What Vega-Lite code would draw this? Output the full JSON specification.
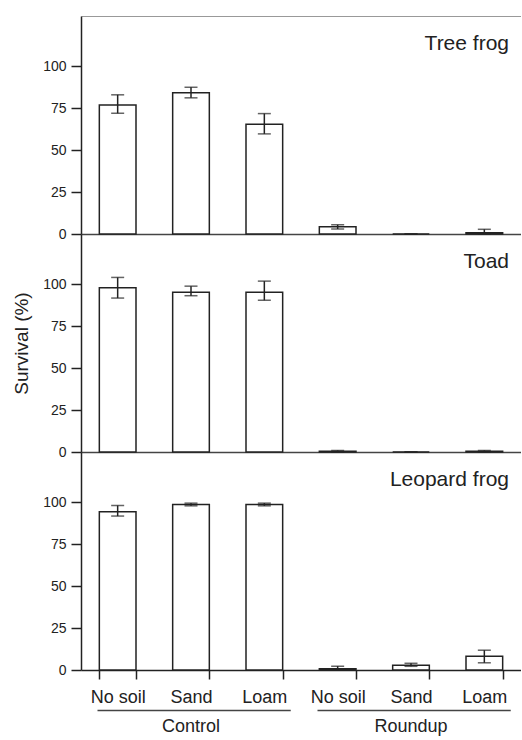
{
  "$schema": "https://vega.github.io/schema/vega-lite/v6.json",
  "padding": {"left": 12, "top": 16, "right": 0, "bottom": 0},
  "background": "white",
  "config": {
    "font": "Liberation Sans",
    "view": {"stroke": null},
    "axis": {
      "grid": false,
      "labelColor": "#222",
      "titleColor": "#222",
      "domainColor": "#222",
      "tickColor": "#222",
      "labelFont": "Liberation Sans",
      "titleFont": "Liberation Sans"
    }
  },
  "datasets": {
    "surv": [
      {"species": "Tree frog", "cat": "Control|No soil", "mean": 77, "lo": 72, "hi": 83},
      {"species": "Tree frog", "cat": "Control|Sand", "mean": 84.3, "lo": 81.2, "hi": 87.5},
      {"species": "Tree frog", "cat": "Control|Loam", "mean": 65.5, "lo": 59.7, "hi": 71.8},
      {"species": "Tree frog", "cat": "Roundup|No soil", "mean": 4.3, "lo": 3, "hi": 5.5},
      {"species": "Tree frog", "cat": "Roundup|Sand", "mean": 0, "lo": 0, "hi": 0},
      {"species": "Tree frog", "cat": "Roundup|Loam", "mean": 0.7, "lo": 0, "hi": 2.8},
      {"species": "Toad", "cat": "Control|No soil", "mean": 97.9, "lo": 91.8, "hi": 104.1},
      {"species": "Toad", "cat": "Control|Sand", "mean": 95.3, "lo": 93.2, "hi": 98.9},
      {"species": "Toad", "cat": "Control|Loam", "mean": 95.3, "lo": 90.5, "hi": 101.9},
      {"species": "Toad", "cat": "Roundup|No soil", "mean": 0.4, "lo": 0, "hi": 0.9},
      {"species": "Toad", "cat": "Roundup|Sand", "mean": 0, "lo": 0, "hi": 0},
      {"species": "Toad", "cat": "Roundup|Loam", "mean": 0.4, "lo": 0, "hi": 0.9},
      {"species": "Leopard frog", "cat": "Control|No soil", "mean": 94.4, "lo": 91.8, "hi": 98.1},
      {"species": "Leopard frog", "cat": "Control|Sand", "mean": 98.7, "lo": 97.9, "hi": 99.5},
      {"species": "Leopard frog", "cat": "Control|Loam", "mean": 98.7, "lo": 97.9, "hi": 99.5},
      {"species": "Leopard frog", "cat": "Roundup|No soil", "mean": 0.8, "lo": 0, "hi": 2.3},
      {"species": "Leopard frog", "cat": "Roundup|Sand", "mean": 2.9, "lo": 2.2, "hi": 4},
      {"species": "Leopard frog", "cat": "Roundup|Loam", "mean": 8.2, "lo": 4.3, "hi": 11.8}
    ],
    "groups": [
      {"treatment": "Control", "first": "Control|No soil", "mid": "Control|Sand", "last": "Control|Loam"},
      {"treatment": "Roundup", "first": "Roundup|No soil", "mid": "Roundup|Sand", "last": "Roundup|Loam"}
    ]
  },
  "spacing": 0,
  "bounds": "flush",
  "vconcat": [
    {
      "width": 440,
      "height": 218,
      "title": {"text": "Tree frog", "anchor": "end", "frame": "group", "orient": "top", "offset": -55, "dx": -12, "fontSize": 21, "fontWeight": "normal", "baseline": "alphabetic", "color": "#222", "font": "Liberation Sans"},
      "data": {"name": "surv"},
      "transform": [{"filter": "datum.species === 'Tree frog'"}],
      "resolve": {"axis": {"x": "independent"}},
      "layer": [
        {
          "mark": {"type": "bar", "fill": "white", "stroke": "#222", "strokeWidth": 1.5},
          "encoding": {
            "x": {"field": "cat", "type": "nominal", "sort": null,
              "scale": {"domain": ["Control|No soil", "Control|Sand", "Control|Loam", "Roundup|No soil", "Roundup|Sand", "Roundup|Loam"], "paddingInner": 0.5, "paddingOuter": 0.25},
              "axis": {"orient": "bottom", "title": null, "labels": false, "ticks": false, "domainColor": "#444", "domainWidth": 1.5}},
            "y": {"field": "mean", "type": "quantitative", "title": null,
              "scale": {"domain": [0, 124]},
              "axis": {"values": [0, 25, 50, 75, 100], "tickSize": 10, "tickWidth": 1.5, "domainWidth": 1.5, "labelPadding": 5, "labelFontSize": 14}}
          }
        },
        {
          "mark": {"type": "errorbar", "ticks": {"size": 13, "thickness": 1.5, "color": "#222"}, "rule": {"strokeWidth": 1.5, "color": "#222"}},
          "encoding": {
            "x": {"field": "cat", "type": "nominal", "axis": null},
            "y": {"field": "lo", "type": "quantitative", "title": null},
            "y2": {"field": "hi"}
          }
        },
        {
          "mark": {"type": "rule", "opacity": 0},
          "encoding": {
            "x": {"field": "cat", "type": "nominal", "axis": {"orient": "top", "title": null, "labels": false, "ticks": false, "domainColor": "#999", "domainWidth": 1}}
          }
        }
      ]
    },
    {
      "width": 440,
      "height": 218,
      "title": {"text": "Toad", "anchor": "end", "frame": "group", "orient": "top", "offset": -55, "dx": -12, "fontSize": 21, "fontWeight": "normal", "baseline": "alphabetic", "color": "#222", "font": "Liberation Sans"},
      "data": {"name": "surv"},
      "transform": [{"filter": "datum.species === 'Toad'"}],
      "layer": [
        {
          "mark": {"type": "bar", "fill": "white", "stroke": "#222", "strokeWidth": 1.5},
          "encoding": {
            "x": {"field": "cat", "type": "nominal", "sort": null,
              "scale": {"domain": ["Control|No soil", "Control|Sand", "Control|Loam", "Roundup|No soil", "Roundup|Sand", "Roundup|Loam"], "paddingInner": 0.5, "paddingOuter": 0.25},
              "axis": {"orient": "bottom", "title": null, "labels": false, "ticks": false, "domainColor": "#444", "domainWidth": 1.5}},
            "y": {"field": "mean", "type": "quantitative", "title": "Survival (%)",
              "scale": {"domain": [0, 124]},
              "axis": {"values": [0, 25, 50, 75, 100], "tickSize": 10, "tickWidth": 1.5, "domainWidth": 1.5, "labelPadding": 5, "labelFontSize": 14, "titleFontSize": 19, "titleFontWeight": "normal", "titlePadding": 11}}
          }
        },
        {
          "mark": {"type": "errorbar", "ticks": {"size": 13, "thickness": 1.5, "color": "#222"}, "rule": {"strokeWidth": 1.5, "color": "#222"}},
          "encoding": {
            "x": {"field": "cat", "type": "nominal"},
            "y": {"field": "lo", "type": "quantitative", "title": "Survival (%)"},
            "y2": {"field": "hi"}
          }
        }
      ]
    },
    {
      "width": 440,
      "height": 218,
      "title": {"text": "Leopard frog", "anchor": "end", "frame": "group", "orient": "top", "offset": -55, "dx": -12, "fontSize": 21, "fontWeight": "normal", "baseline": "alphabetic", "color": "#222", "font": "Liberation Sans"},
      "layer": [
        {
          "data": {"name": "surv"},
          "transform": [{"filter": "datum.species === 'Leopard frog'"}],
          "mark": {"type": "bar", "fill": "white", "stroke": "#222", "strokeWidth": 1.5},
          "encoding": {
            "x": {"field": "cat", "type": "nominal", "sort": null,
              "scale": {"domain": ["Control|No soil", "Control|Sand", "Control|Loam", "Roundup|No soil", "Roundup|Sand", "Roundup|Loam"], "paddingInner": 0.5, "paddingOuter": 0.25},
              "axis": {"orient": "bottom", "title": null, "labelExpr": "split(datum.label, '|')[1]", "labelAngle": 0, "labelFontSize": 18, "labelPadding": 9, "tickBand": "extent", "tickSize": 9, "tickWidth": 1.5, "domainWidth": 1.5}},
            "y": {"field": "mean", "type": "quantitative", "title": null,
              "scale": {"domain": [0, 124]},
              "axis": {"values": [0, 25, 50, 75, 100], "tickSize": 10, "tickWidth": 1.5, "domainWidth": 1.5, "labelPadding": 5, "labelFontSize": 14}}
          }
        },
        {
          "data": {"name": "surv"},
          "transform": [{"filter": "datum.species === 'Leopard frog'"}],
          "mark": {"type": "errorbar", "ticks": {"size": 13, "thickness": 1.5, "color": "#222"}, "rule": {"strokeWidth": 1.5, "color": "#222"}},
          "encoding": {
            "x": {"field": "cat", "type": "nominal"},
            "y": {"field": "lo", "type": "quantitative", "title": null},
            "y2": {"field": "hi"}
          }
        },
        {
          "data": {"name": "groups"},
          "mark": {"type": "rule", "color": "#444", "strokeWidth": 1.5},
          "encoding": {
            "x": {"field": "first", "type": "nominal", "bandPosition": -0.05},
            "x2": {"field": "last", "bandPosition": 1.22},
            "y": {"datum": -24.2}
          }
        },
        {
          "data": {"name": "groups"},
          "mark": {"type": "text", "fontSize": 18, "color": "#222", "baseline": "alphabetic", "font": "Liberation Sans"},
          "encoding": {
            "x": {"field": "mid", "type": "nominal"},
            "y": {"datum": -36.8},
            "text": {"field": "treatment"}
          }
        }
      ]
    }
  ]
}
